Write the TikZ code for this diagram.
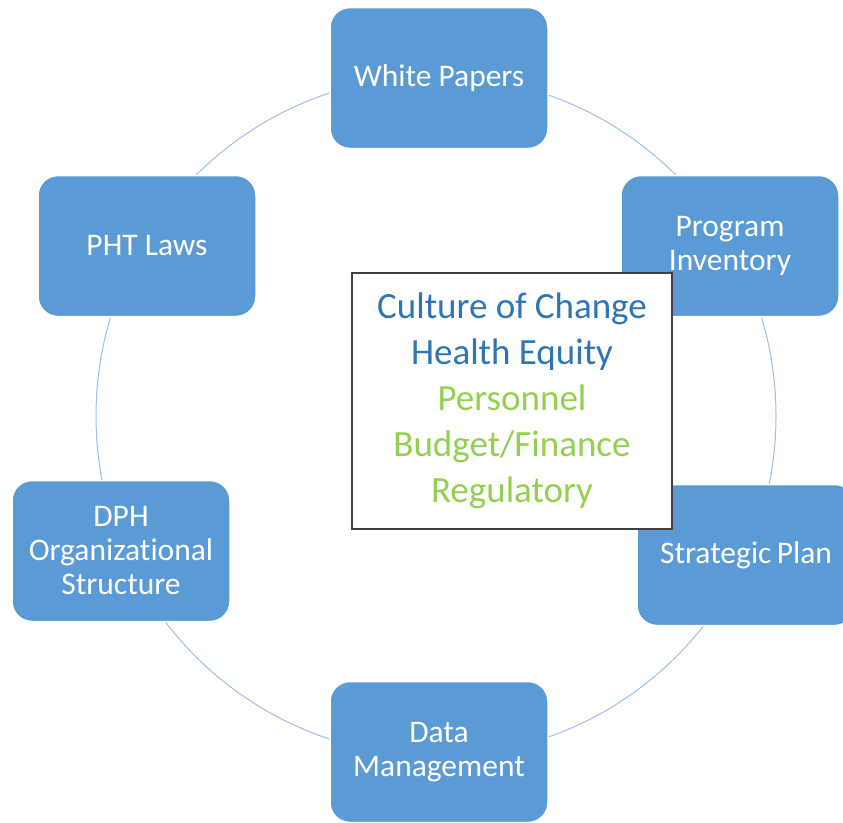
\documentclass[tikz,border=0pt]{standalone}
\usepackage{fontspec}
\setmainfont{Carlito}[Ligatures=NoCommon]
\usepackage{tikz}
\usetikzlibrary{positioning}

\definecolor{boxblue}{HTML}{5B9BD5}
\definecolor{ringblue}{HTML}{9BC0E4}
\definecolor{textblue}{HTML}{2E75B6}
\definecolor{textgreen}{HTML}{92D050}

\begin{document}
\begin{tikzpicture}[
        x=1pt, y=-1pt,
        item/.style={fill=boxblue, draw=white, line width=1.5pt, rounded corners=20pt,
            minimum width=218pt, minimum height=141pt, inner sep=0pt,
            text=white, align=center, font=\fontsize{31.5}{34}\selectfont},
        topic/.style={fill=white, draw=black!75, line width=1.2pt,
            minimum width=320pt, minimum height=256pt, inner sep=0pt,
            align=center, font=\fontsize{37}{46}\selectfont}
    ]

    \useasboundingbox (0,0) rectangle (843,822) ;
    \clip (0,0) rectangle (843,822) ;

    \coordinate (c) at (436,416) ;
    \draw[ringblue, line width=1pt] (c) circle (340pt) ;

    \node[item] (papers) at (439,78) {White Papers} ;
    \node[item] (inventory) at (730,246) {Program\\Inventory} ;
    \node[item] (strategic) at (746,555) {Strategic\,Plan} ;
    \node[item] (data) at (439,752) {Data\\Management} ;
    \node[item] (dph) at (121,551) {DPH\\Organizational\\Structure} ;
    \node[item] (laws) at (147,246) {PHT Laws} ;

    \node[topic] (core) at (512,401) {\textcolor{textblue}{Culture of Change}\\
        \textcolor{textblue}{Health Equity}\\
        \textcolor{textgreen}{Personnel}\\
        \textcolor{textgreen}{Budget/Finance}\\
        \textcolor{textgreen}{Regulatory}} ;

\end{tikzpicture}
\end{document}
